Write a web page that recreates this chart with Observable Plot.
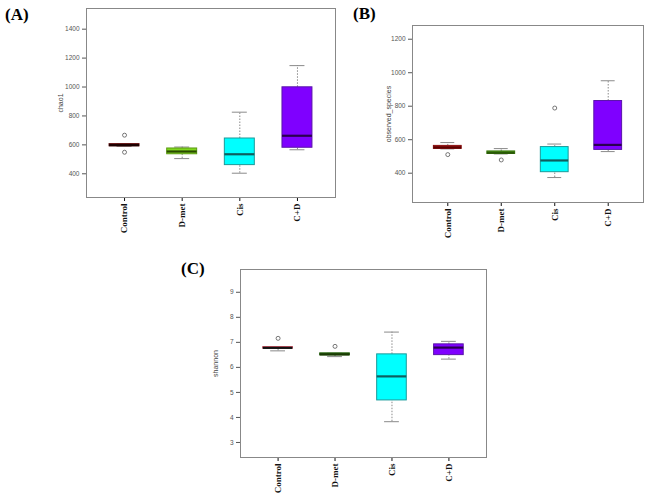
<!DOCTYPE html>
<html>
<head>
<meta charset="utf-8">
<script src="https://cdn.jsdelivr.net/npm/d3@7"></script>
<script src="https://cdn.jsdelivr.net/npm/@observablehq/plot@0.6"></script>
<style>
  html, body { margin: 0; padding: 0; background: #fff; }
  #root { position: relative; width: 649px; height: 494px; overflow: hidden; background: #fff; }
  .panel { position: absolute; }
  .tag { position: absolute; font-family: "Liberation Serif", "Times New Roman", serif; font-weight: bold; font-size: 17px; line-height: 17px; color: #000; }
</style>
</head>
<body>
<div id="root"></div>
<script>
// ---------- data ----------
const categories = ["Control", "D-met", "Cis", "C+D"];

// (A) chao1
const chao1Low    = [590, 505, 404, 566];
const chao1Q1     = [590, 535, 460, 580];
const chao1Median = [598, 554, 535, 663];
const chao1Q3     = [605, 575, 644, 998];
const chao1High   = [605, 585, 826, 1148];
const chao1Outliers = [[0, 667], [0, 549]];
const chao1Ticks  = [400, 600, 800, 1000, 1200, 1400];

// (B) observed_species
const obsLow    = [545, 515, 374, 529];
const obsQ1     = [545, 515, 406, 539];
const obsMedian = [554, 522, 476, 569];
const obsQ3     = [563, 530, 556, 831];
const obsHigh   = [583, 547, 574, 952];
const obsOutliers = [[0, 511], [1, 479], [2, 789]];
const obsTicks  = [400, 600, 800, 1000, 1200];

// (C) shannon
const shanLow    = [6.66, 6.43, 3.83, 6.33];
const shanQ1     = [6.75, 6.48, 4.68, 6.49];
const shanMedian = [6.78, 6.52, 5.64, 6.79];
const shanQ3     = [6.81, 6.56, 6.52, 6.92];
const shanHigh   = [6.81, 6.56, 7.41, 7.04];
const shanOutliers = [[0, 7.16], [1, 6.84]];
const shanTicks  = [3, 4, 5, 6, 7, 8, 9];

// ---------- styles ----------
const serif = "'Liberation Serif', 'Times New Roman', serif";
const sans = "'Liberation Sans', Arial, sans-serif";

function makeRows(low, q1, med, q3, high) {
  return categories.map((c, i) => ({i: i + 1, cat: c, lo: low[i], q1: q1[i], med: med[i], q3: q3[i], hi: high[i]}));
}

function panel(cfg) {
  const rows = makeRows(...cfg.stats);
  const outs = cfg.outliers.map(([k, v]) => ({i: k + 1, v}));
  const bw = 0.26, cw = 0.13;
  const svg = Plot.plot({
    width: cfg.width, height: cfg.height,
    marginLeft: cfg.mL, marginRight: cfg.mR, marginTop: cfg.mT, marginBottom: cfg.mB,
    style: {background: "transparent", overflow: "visible"},
    x: {type: "linear", domain: [0.34, 4.66], axis: null},
    y: {domain: cfg.domain, axis: null},
    color: {type: "identity"},
    marks: [
      Plot.axisY(cfg.ticks, {tickSize: 4, tickPadding: 3, fontSize: 6.5, fontFamily: sans, color: "#555", label: null, tickFormat: d => String(d)}),
      Plot.axisX([1, 2, 3, 4], {tickSize: 4, tickPadding: 2, tickRotate: -90, tickFormat: i => categories[i - 1],
        fontSize: 9, fontWeight: "bold", fontFamily: serif, color: "#111", label: null}),
      Plot.text([cfg.label], {frameAnchor: "left", dx: cfg.labelDx, rotate: -90, textAnchor: "middle", fontSize: 7, fontFamily: sans, fill: "#444"}),
      // whiskers
      Plot.ruleX(rows, {x: "i", y1: "q3", y2: "hi", stroke: "#8a8a8a", strokeDasharray: "1.5,1.5", strokeWidth: 1}),
      Plot.ruleX(rows, {x: "i", y1: "lo", y2: "q1", stroke: "#8a8a8a", strokeDasharray: "1.5,1.5", strokeWidth: 1}),
      // caps
      Plot.ruleY(rows, {y: "hi", x1: d => d.i - cw, x2: d => d.i + cw, stroke: "#8a8a8a", strokeWidth: 1}),
      Plot.ruleY(rows, {y: "lo", x1: d => d.i - cw, x2: d => d.i + cw, stroke: "#8a8a8a", strokeWidth: 1}),
      // boxes
      Plot.rect(rows, {x1: d => d.i - bw, x2: d => d.i + bw, y1: "q1", y2: "q3",
        fill: d => cfg.fills[d.i - 1], stroke: d => cfg.strokes[d.i - 1], strokeWidth: 1}),
      // medians
      Plot.ruleY(rows, {y: "med", x1: d => d.i - bw, x2: d => d.i + bw, stroke: d => cfg.medians[d.i - 1], strokeWidth: 2.2}),
      // outliers
      Plot.dot(outs, {x: "i", y: "v", r: 2, stroke: "#555", strokeWidth: 0.8, fill: "none"}),
      Plot.frame({stroke: "#888", strokeWidth: 1})
    ]
  });
  const wrap = document.createElement("div");
  wrap.className = "panel";
  wrap.style.left = cfg.left + "px";
  wrap.style.top = cfg.top + "px";
  wrap.appendChild(svg);
  return wrap;
}

const root = document.getElementById("root");

root.appendChild(panel({
  left: 0, top: 0, width: 340, height: 250, mL: 86, mR: 5, mT: 8, mB: 53,
  domain: [236, 1543], ticks: chao1Ticks, label: "chao1", labelDx: -26,
  stats: [chao1Low, chao1Q1, chao1Median, chao1Q3, chao1High], outliers: chao1Outliers,
  fills: ["#7e0c12", "#7fd81e", "#00ffff", "#7f00ff"],
  strokes: ["#5a0a0a", "#5c9a14", "#1a9a9a", "#5a14aa"],
  medians: ["#1a0000", "#2a4a00", "#0e5e5e", "#2a0050"]
}));

root.appendChild(panel({
  left: 330, top: 0, width: 319, height: 250, mL: 82, mR: 6, mT: 25, mB: 48,
  domain: [225, 1282], ticks: obsTicks, label: "observed_species", labelDx: -24,
  stats: [obsLow, obsQ1, obsMedian, obsQ3, obsHigh], outliers: obsOutliers,
  fills: ["#b01e1e", "#4f9a1c", "#00ffff", "#7f00ff"],
  strokes: ["#8a1010", "#3a7a10", "#1a9a9a", "#5a14aa"],
  medians: ["#5a0000", "#2a5a08", "#0e5e5e", "#2a0050"]
}));

root.appendChild(panel({
  left: 150, top: 250, width: 350, height: 244, mL: 90, mR: 14, mT: 19, mB: 37,
  domain: [2.4, 9.91], ticks: shanTicks, label: "shannon", labelDx: -25,
  stats: [shanLow, shanQ1, shanMedian, shanQ3, shanHigh], outliers: shanOutliers,
  fills: ["#8b1a2a", "#2e7a12", "#00ffff", "#7f00ff"],
  strokes: ["#d05060", "#1e5a08", "#1a9a9a", "#5a14aa"],
  medians: ["#111111", "#1a3a04", "#0e5e5e", "#2a0050"]
}));

const tags = [["(A)", 5, 6], ["(B)", 353, 5], ["(C)", 181, 260]];
for (const [t, x, y] of tags) {
  const d = document.createElement("div");
  d.className = "tag";
  d.textContent = t;
  d.style.left = x + "px";
  d.style.top = y + "px";
  root.appendChild(d);
}
</script>
</body>
</html>
